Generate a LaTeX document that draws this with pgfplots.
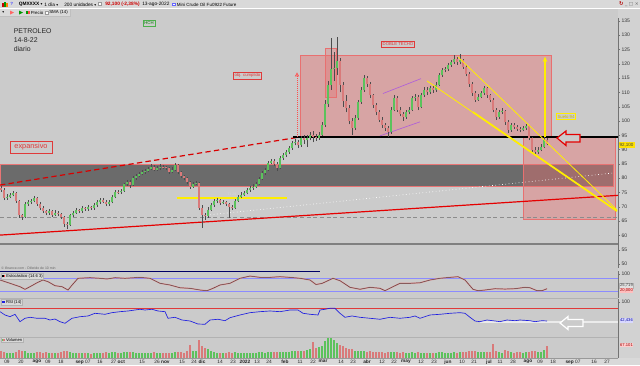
\documentclass[border=0pt]{standalone}
\usepackage{pgfplots}
\pgfplotsset{compat=1.18}
\usepackage{pgfplotstable}
\usetikzlibrary{arrows.meta}
\usepackage{fontspec}
\setmainfont{Liberation Sans}
\newfontfamily\dejavu{DejaVu Sans}
\definecolor{bg}{HTML}{CBCBCB}
\definecolor{tb}{HTML}{D9D9D9}
\definecolor{rstrip}{HTML}{D2D2D2}
\definecolor{band}{HTML}{6B6B6B}
\definecolor{cgreen}{HTML}{5CC25C}
\definecolor{cred}{HTML}{D97A7A}
\definecolor{pinkf}{HTML}{E87070}
\definecolor{ylw}{HTML}{FFEE00}
\definecolor{purp}{HTML}{B060D8}
\definecolor{rsiblue}{HTML}{2020E0}
\definecolor{lred}{HTML}{E03A3A}
\definecolor{stochk}{HTML}{5A4040}
\definecolor{stochd}{HTML}{E09090}
\newcommand\fs[1]{\fontsize{#1}{#1}\selectfont}

\pgfplotstableread{
x o c h l v
1 76.5 76 77.2 75.3 40
4 76 73 76.5 72.3 35
7 73 73.5 74.3 72.4 30
10 73.5 74 74.8 73 28
13 74 74.8 75.6 73.6 30
16 74.8 72 75.2 71.4 32
19 72 67 72.4 66.2 45
22 67 66.4 67.6 65.5 40
25 66.4 71 71.6 66 38
28 71 71.5 72.3 70.4 30
31 71.5 72 72.8 71 28
34 72 73 73.8 71.5 30
37 73 71 73.4 70.3 33
40 71 69.5 71.5 68.8 35
43 69.5 68.5 70.2 67.8 30
46 68.5 67.8 69 67 32
49 67.8 68.5 69.3 67.2 28
52 68.5 67.2 69 66.5 30
55 67.2 68 68.8 66.8 27
58 68 67.5 68.6 66.9 29
61 67.5 66.5 68 65.7 33
64 66.5 64 66.8 63 38
67 64 63.5 64.6 62.2 42
70 63.5 67 67.6 63.2 36
73 67 68 68.7 66.4 30
76 68 68.8 69.6 67.5 28
79 68.8 68.5 69.4 67.8 27
82 68.5 69.5 70.2 68 29
85 69.5 69.2 70 68.6 26
88 69.2 69.8 70.5 68.7 28
91 69.8 69.5 70.3 68.9 25
94 69.5 70.5 71.2 69 27
97 70.5 71.5 72.2 70 29
100 71.5 72.4 73.2 71 30
103 72.4 71.8 73 71.2 28
106 71.8 70.8 72.2 70.2 31
109 70.8 71.5 72.2 70.3 27
112 71.5 73.4 74 71.2 33
115 73.4 75.2 75.8 73 35
118 75.2 75 75.9 74.3 30
121 75 75.5 76.3 74.5 29
124 75.5 77.8 78.4 75.2 34
127 77.8 78.7 79.4 77.3 31
130 78.7 77.6 79.2 76.5 33
133 77.6 80 80.6 77.2 32
136 80 80.8 81.5 79.5 30
139 80.8 81.5 82.2 80.3 29
142 81.5 82 82.8 81 27
145 82 82.5 83.3 81.6 28
148 82.5 83.2 84 82 30
151 83.2 84 84.8 82.8 29
154 84 83 84.5 82.4 31
157 83 83.5 84.3 82.6 27
160 83.5 84 84.8 83 28
163 84 83.8 84.6 83.1 26
166 83.8 83.5 84.4 82.8 27
169 83.5 82.2 84 81.5 30
172 82.2 83 83.8 81.8 28
175 83 84.6 85.4 82.6 32
178 84.6 82 85 81.4 34
181 82 80.6 82.5 80 33
184 80.6 80 81.2 79.2 30
187 80 78.5 80.5 77.8 38
190 78.5 77 79 76.3 72
193 77 78 78.8 76.6 40
196 78 78.3 79 77.5 38
199 78.3 69.5 78.6 68.8 100
202 69.5 67 70.5 62.5 70
205 67 66.8 68 65.5 55
208 66.8 69 69.8 66.2 50
211 69 70.5 71.2 68.4 40
214 70.5 72 72.8 70 35
217 72 72.2 73 71.3 30
220 72.2 71.3 72.8 70.6 28
223 71.3 71.5 72.4 70.8 27
226 71.5 71 72 70.2 26
229 71 70 71.4 66 35
232 70 69.5 70.6 68.8 30
235 69.5 72 72.6 69.2 32
238 72 73.5 74.2 71.6 30
241 73.5 74.2 75 73 28
244 74.2 74.8 75.6 73.8 27
247 74.8 75.8 76.6 74.3 29
250 75.8 76.6 77.4 75.2 28
253 76.6 77 77.8 76 26
256 77 78 78.8 76.5 29
259 78 79.8 80.5 77.6 31
262 79.8 81.8 82.5 79.3 33
265 81.8 82.9 83.6 81.2 30
268 82.9 85.3 86 82.5 34
271 85.3 86 86.8 84.8 32
274 86 85 86.6 84.2 33
277 85 83.5 85.5 82.5 36
280 83.5 87 87.7 83.2 35
283 87 88 88.8 86.5 33
286 88 89 89.8 87.4 34
289 89 90.5 91.3 88.6 36
292 90.5 92.3 93.1 90 38
295 92.3 92.7 93.6 91.5 37
298 92.7 91.5 93.3 90.5 40
301 91.5 94 94.8 91 42
304 94 93.4 95 92 40
307 93.4 94.2 95.2 91 45
310 94.2 95 96 93.2 50
313 95 94.5 96.5 92.5 88
316 94.5 94 95.5 93 55
319 94 95 96 93.5 60
322 95 98.6 99.8 94.6 70
325 98.6 106 107.5 98 95
328 106 112.6 114 105 110
331 112.6 118 129 111 112
334 118 118.5 124 114 100
337 118.5 121 129.5 116 85
340 121 112.6 122 110 75
343 112.6 107 113.5 105 65
346 107 104.5 109 103 55
349 104.5 100 105.5 98.8 50
352 100 97.5 101 95.2 48
355 97.5 101 102 96.8 42
358 101 106.6 107.5 100.5 40
361 106.6 111 112 106 38
364 111 115 116 110.2 40
367 115 113 115.8 112 35
370 113 109 113.6 108 37
373 109 105.5 109.6 104.5 35
376 105.5 103 106.4 102 33
379 103 100.5 103.8 99.6 32
382 100.5 98.6 101.3 97.5 34
385 98.6 97.5 99.4 96.6 30
388 97.5 96 98.3 94.5 33
391 96 104 104.8 95.6 36
394 104 108 109 103.4 34
397 108 104 108.8 103.2 33
400 104 102.5 104.8 101.6 30
403 102.5 101.4 103.2 100 31
406 101.4 103 103.8 100.8 28
409 103 104 104.8 102.4 29
412 104 108 108.8 103.5 32
415 108 108.4 109.5 107 30
418 108.4 104.9 109 103.8 33
421 104.9 109 109.8 104.4 30
424 109 111 112 108.4 29
427 111 110 111.8 109 27
430 110 111.5 112.4 109.4 28
433 111.5 110.8 112.2 109.8 26
436 110.8 112.6 113.5 110.3 30
439 112.6 116 116.8 112.2 32
442 116 117.8 118.6 115.4 33
445 117.8 118 119 117 28
448 118 119.6 120.4 117.5 30
451 119.6 120.5 121.4 119 29
454 120.5 121.5 123 120 31
457 121.5 120.5 122.2 119.6 30
460 120.5 121.3 123.4 119.8 32
463 121.3 119 121.8 118.2 34
466 119 116.5 119.5 115.6 36
469 116.5 113 117 112 38
472 113 109.8 113.6 108.8 40
475 109.8 107.5 110.4 106.6 42
478 107.5 108.5 109.3 107 35
481 108.5 109.8 110.6 108 33
484 109.8 111.5 112.4 109.2 32
487 111.5 109 112 108.2 34
490 109 107.5 109.6 106.6 35
493 107.5 104 108 103 78
496 104 101.4 104.6 100.4 40
499 101.4 103 103.8 100.8 33
502 103 103.5 104.4 102.4 30
505 103.5 99.5 104 98.6 45
508 99.5 96.9 100.2 95.8 38
511 96.9 98.5 99.3 96.3 32
514 98.5 98 99.2 97.2 30
517 98 97.2 98.6 96.5 33
520 97.2 96.9 97.8 96 31
523 96.9 97.5 98.3 96.4 30
526 97.5 98.2 99 97 32
529 98.2 94 98.6 93.2 35
532 94 90 94.5 89.2 40
535 90 89.2 90.8 88 38
538 89.2 90 90.8 88.5 35
541 90 91 91.8 89.4 33
544 91 93.5 94.5 90.5 45
547 93.5 92.1 94.2 91.5 67
}\candles

\pgfplotstableread{
x v
0 70.8
10 55.5
20 39.8
25 27.8
30 39.8
37 58
43 70.8
48 63
55 44.5
62 40
68 24.6
72 47
78 78.6
90 81.4
100 78.6
107 75.4
115 81.4
125 78.6
140 83
150 78.6
160 55.5
170 47.7
180 35
190 32.3
200 24.6
207 21.4
213 32.3
220 47.7
230 55.5
240 78.6
250 89
260 83
270 83
280 86
290 83
300 78.6
310 70.8
316 50
322 55
333 78.6
340 67.5
350 37
360 28
370 37
380 32.5
385 21.4
393 40
400 55.5
410 55.5
420 58
430 70.8
440 78.6
450 83
458 86
465 70.8
473 28
478 21.4
485 24.6
495 30.6
505 29
515 30.6
525 37
530 35
537 21.4
542 21.4
547 30.6
}\stoch

\pgfplotstableread{
x v
0 70.6
5 60.6
10 55.4
15 62.7
20 40.3
25 50.6
30 53.6
37 50.6
45 50.6
50 45.4
55 48.4
60 40.3
65 35.4
72 50.6
80 55.4
88 57.6
95 65.7
105 62.7
112 67.6
120 70.6
128 72.7
135 75.7
140 77.9
145 75.7
152 77.9
158 72.7
165 70.6
168 50.6
175 53.6
182 45.4
190 42.4
198 33.3
205 32.4
210 45.4
218 47.6
225 43.3
230 52.4
240 60.6
250 67.6
260 70.6
270 72.7
280 70.6
290 75.7
298 75.7
303 65.7
310 62.7
318 60.6
320 75.7
325 77.9
330 80.9
335 80.9
340 65.7
345 53.6
352 57.6
360 53.6
370 50.6
380 47.6
390 53.6
400 50.6
410 53.6
415 57.6
420 50.6
430 60.6
440 62.7
450 65.7
460 67.6
465 65.7
470 53.6
475 42.4
480 40.3
487 45.4
495 42.4
500 40.3
507 45.4
515 43.3
520 45.4
530 43.3
535 40.3
542 43.3
547 42.4
}\rsi

\pgfplotsset{panel/.style={scale only axis, width=463.5pt, xmin=0, xmax=618,
  anchor=north west, axis y line*=right,
  axis line style={draw=black!55}, tick align=outside, major tick length=1.5pt,
  tick style={black!55}, yticklabel style={font=\fs{3.8}, text=black!80, inner sep=1pt},
  /pgf/number format/assume math mode=true, clip=true}}

\begin{document}
\begin{tikzpicture}
\useasboundingbox (0,0) rectangle (480pt,-273.75pt);
\fill[bg] (0,0) rectangle (480pt,-273.75pt);
\begin{scope}[x=0.75pt,y=-0.75pt]
 \fill[tb] (0,0) rectangle (640,8.5);
 \draw[white,line width=0.5pt] (0,8.5) -- (640,8.5);
 \fill[rstrip] (618,9) rectangle (640,358);
 \fill[tb] (0,358) rectangle (640,365);
 \fill[tb] (0,9) rectangle (70,16);
 \draw[black!25] (0,16) -- (70,16) -- (70,9);
\end{scope}

% ---------- main price panel ----------
\begin{axis}[panel, axis x line=none, at={(0pt,-13.5pt)}, height=187.5pt, ymin=48.6, ymax=136,
  ytick={50,55,...,135}]
 \fill[band] (axis cs:0,77.3) rectangle (axis cs:613,85);
 \draw[lred!70, line width=0.5pt] (axis cs:0,77.3) rectangle (axis cs:613,85);
 \fill[pinkf, fill opacity=0.42] (axis cs:300,94.4) rectangle (axis cs:551,123);
 \draw[pinkf, line width=0.5pt] (axis cs:300,94.4) rectangle (axis cs:551,123);
 \fill[pinkf, fill opacity=0.42] (axis cs:523,65.7) rectangle (axis cs:615,94.4);
 \draw[pinkf, line width=0.5pt] (axis cs:523,65.7) rectangle (axis cs:615,94.4);
 \fill[pinkf, fill opacity=0.35] (axis cs:325,108.4) rectangle (axis cs:336,125.5);
 \draw[pinkf, line width=0.5pt] (axis cs:325,108.4) rectangle (axis cs:336,125.5);
 \draw[black!50, line width=0.9pt] (axis cs:0,57) -- (axis cs:618,57);
 \draw[black!45, line width=0.5pt, dash pattern=on 3pt off 2pt] (axis cs:0,66.4) -- (axis cs:618,66.4);
 \draw[white, dotted, line width=0.5pt] (axis cs:207,67.1) -- (axis cs:613,81.8);
 \draw[red!90!black, line width=0.9pt] (axis cs:0,60.1) -- (axis cs:618,74.0);
 \draw[red!85!black, line width=0.9pt, dash pattern=on 4pt off 2.5pt] (axis cs:0,77.6) -- (axis cs:300,94.4);
 \draw[black, line width=0.8pt] (axis cs:293,94.4) -- (axis cs:618,94.4);
 \draw[ylw, line width=1.2pt] (axis cs:177,73.1) -- (axis cs:287,73.1);
 \draw[purp, line width=0.5pt] (axis cs:383,109.6) -- (axis cs:421,114.8);
 \draw[purp, line width=0.5pt] (axis cs:380,94.8) -- (axis cs:420,99.7);
 \draw[red!70, densely dotted, line width=0.5pt, -{Triangle[open,length=3pt,width=3pt]}] (axis cs:297,94.4) -- (axis cs:297,117);
 % candles: wicks
 \addplot[draw=none, mark=none, forget plot, error bars/.cd, y dir=plus, y explicit, error mark=none,
   error bar style={draw=black!70, solid, line width=0.4pt}]
   table[x=x, y=l, y error plus expr=\thisrow{h}-\thisrow{l}] {\candles};
 % up bodies
 \addplot[draw=none, mark=none, forget plot, x filter/.expression={\thisrow{c}>=\thisrow{o} ? x : nan},
   error bars/.cd, y dir=plus, y explicit, error mark=none,
   error bar style={draw=cgreen, solid, line width=1.4pt}]
   table[x=x, y=o, y error plus expr=\thisrow{c}-\thisrow{o}] {\candles};
 % down bodies
 \addplot[draw=none, mark=none, forget plot, x filter/.expression={\thisrow{c}<\thisrow{o} ? x : nan},
   error bars/.cd, y dir=plus, y explicit, error mark=none,
   error bar style={draw=cred, solid, line width=1.4pt}]
   table[x=x, y=c, y error plus expr=\thisrow{o}-\thisrow{c}] {\candles};
 % yellow trend lines
 \draw[ylw, line width=0.6pt] (axis cs:458,122.4) -- (axis cs:617,68.9);
 \draw[ylw, line width=0.6pt] (axis cs:427,114) -- (axis cs:617,68.5);
 \draw[ylw, line width=1.3pt] (axis cs:473,103.1) -- (axis cs:617,68.5);
 \draw[ylw, line width=0.8pt, -{Stealth[length=4pt,width=3.5pt]}] (axis cs:545,94.4) -- (axis cs:545,122.5);
\end{axis}

% ---------- stochastic ----------
\begin{axis}[panel, axis x line=none, at={(0pt,-203.25pt)}, height=20.25pt, ymin=-12.3, ymax=112.3, ytick={100}]
 \draw[blue!45!white, line width=0.5pt] (axis cs:0,80) -- (axis cs:618,80);
 \draw[blue!45!white, line width=0.5pt] (axis cs:0,20) -- (axis cs:618,20);
 \addplot[stochd, line width=0.9pt, mark=none] table[x=x,y=v] {\stoch};
 \addplot[stochk, line width=0.35pt, mark=none] table[x=x,y=v] {\stoch};
\end{axis}

% ---------- RSI ----------
\begin{axis}[panel, axis x line=none, at={(0pt,-224.25pt)}, height=28.5pt, ymin=-6.1, ymax=109, ytick={100}]
 \draw[lred, line width=1pt] (axis cs:0,80) -- (axis cs:618,80);
 \draw[white!92!black, line width=1.2pt] (axis cs:480,39.4) -- (axis cs:618,39.4);
 \addplot[rsiblue, line width=0.5pt, mark=none] table[x=x,y=v] {\rsi};
\end{axis}

% ---------- volume ----------
\begin{axis}[panel, at={(0pt,-252.75pt)}, height=15.75pt, ymin=0, ymax=118, ytick=\empty,
  axis x line*=bottom, x axis line style={draw=black!40},
  xtick={7,21,37,48,61,83,100,118,142,162,182,194,202,220,233,245,257,269,285,300,313,323,341,353,367,382,394,406,421,434,448,462,474,489,500,513,528,540,553,573,594,607},
  xticklabels={09,20,\textbf{ago},09,18,{\textbf{sep} 07},16,{27 \textbf{oct}},15,{26 \textbf{nov}},15,24,\textbf{dic},14,23,\textbf{2022},13,24,\textbf{feb},11,22,\textbf{mar},14,23,\textbf{abr},12,22,\textbf{may},12,23,\textbf{jun},10,21,\textbf{jul},11,28,\textbf{ago},09,18,{\textbf{sep} 07},16,27},
  xticklabel style={font=\fs{3.6}, text=black!85, inner sep=0.6pt}, major tick length=1pt]
 \addplot[ycomb, cgreen, line width=1.3pt, mark=none, x filter/.expression={\thisrow{c}>=\thisrow{o} ? x : nan}] table[x=x,y=v] {\candles};
 \addplot[ycomb, cred, line width=1.3pt, mark=none, x filter/.expression={\thisrow{c}<\thisrow{o} ? x : nan}] table[x=x,y=v] {\candles};
\end{axis}

% ---------- annotations (pixel coordinates) ----------
\begin{scope}[x=0.75pt,y=-0.75pt]
 \draw[blue!40!black, line width=0.6pt] (0,271.5) -- (320,271.5);
 \draw[black!30, line width=0.4pt] (0,298.5) -- (618,298.5);
 \draw[black!30, line width=0.4pt] (0,336.8) -- (618,336.8);
 % toolbar
 \fill[red!80!black] (2,3) rectangle (3.5,7); \fill[green!60!black] (4,1.5) rectangle (5.5,7); \fill[orange] (6,2.5) rectangle (7.5,7);
 \node[anchor=west, font=\fs{3.4}, inner sep=0] at (10,4.3) {\textcolor{blue!70}{\textbf{?}}};
 \node[anchor=west, font=\fs{3.6}, inner sep=0] at (18.5,4.5) {\textbf{QMXXXX} {\dejavu\fs{2.8}▾}};
 \node[anchor=west, font=\fs{3.6}, inner sep=0] at (44,4.5) {1 día {\dejavu\fs{2.8}▾}};
 \node[anchor=west, font=\fs{3.6}, inner sep=0] at (64,4.5) {200 unidades {\dejavu\fs{2.8}▾}};
 \draw[black!40, fill=white] (98,2.5) rectangle (101,5.5);
 \node[anchor=west, font=\fs{3.6}, inner sep=0, text=red!80!black] at (105,4.5) {\textbf{92,100 (-2,38\%)}};
 \node[anchor=west, font=\fs{3.6}, inner sep=0] at (142,4.5) {13-ago-2022};
 \draw[blue!60, fill=white] (172.5,3) rectangle (175,5.5);
 \node[anchor=west, font=\fs{3.4}, inner sep=0] at (176.5,4.5) {Mini Crude Oil Fu0922 Future};
 \node[anchor=east, font=\fs{4}, inner sep=0] at (639,4.5) {\textcolor{red!70!black}{\textbf{\dejavu ↻}}\ \textcolor{black!60}{\dejavu\fs{3.5}\_ □ ×}};
 \node[anchor=west, font=\fs{3}, inner sep=0] at (2,12.5) {\dejavu\fs{2.8}▾};
 \fill[red!60] (10,10.5) -- (14,12.5) -- (10,14.5) -- cycle; \fill[green!60!black] (19,10.5) -- (23,12.5) -- (19,14.5) -- cycle;
 \fill[green!60!black] (26,10.8) rectangle (27.8,14.2); \fill[red!70] (27.8,10.8) rectangle (29.6,14.2);
 \node[anchor=west, font=\fs{3.3}, inner sep=0] at (30.5,12.5) {Precio};
 \draw[black!40, fill=white] (45,11) rectangle (47.8,14);
 \node[anchor=west, font=\fs{3.3}, inner sep=0] at (49,12.5) {SMA (14)};
 % titles
 \node[anchor=west, font=\fs{5.2}, text=black!85, inner sep=0] at (13.5,31.5) {PETROLEO};
 \node[anchor=west, font=\fs{5.2}, text=black!85, inner sep=0] at (13.5,40.3) {14-8-22};
 \node[anchor=west, font=\fs{5.2}, text=black!85, inner sep=0] at (13.5,49) {diario};
 \node[draw=green!55!black!70, text=green!50!black, font=\fs{3.2}, inner sep=1pt, line width=0.4pt] at (149,23) {HCH};
 \node[draw=lred, text=lred, font=\fs{3.2}, inner sep=1pt, line width=0.4pt] at (247.5,75.5) {obj. cumplido};
 \node[draw=lred, text=lred, font=\fs{3.2}, inner sep=1pt, line width=0.4pt] at (398,44.5) {DOBLE TECHO};
 \node[draw=lred, text=lred, font=\fs{5.5}, inner sep=2pt, line width=0.4pt, minimum width=31.5pt] at (31,147) {expansivo};
 \node[draw=ylw, text=ylw!80!black, font=\fs{3.2}, inner sep=1pt, line width=0.4pt] at (566,116.5) {Suelo 94};
 \node[text=white!85!black, font=\fs{2.6}, inner sep=0] at (232,195) {71,29};
 \filldraw[draw=red!90!black, fill=bg, line width=0.9pt, line join=miter] (557,138) -- (566,131) -- (566,134.5) -- (580,134.5) -- (580,142) -- (566,142) -- (566,145.5) -- cycle;
 \filldraw[draw=white, fill=bg, line width=0.9pt, line join=miter] (560,323) -- (568,316.5) -- (568,319.5) -- (583,319.5) -- (583,326.5) -- (568,326.5) -- (568,329.5) -- cycle;
 % right value boxes
 \node[fill=yellow!85!orange, text=black!75, font=\fs{3.4}, inner sep=0.8pt] at (626.5,145) {92,100};
 \node[fill=black!12, draw=black!30, text=black!75, font=\fs{3.1}, inner sep=0.5pt, line width=0.3pt] at (626.5,285.5) {25,719};
 \node[fill=red!25, text=red!60!black, font=\fs{3.1}, inner sep=0.5pt] at (626.5,290.5) {20,000};
 \node[fill=blue!15, text=blue!60!black, font=\fs{3.1}, inner sep=0.5pt] at (626.5,320.5) {42,436};
 \node[fill=red!20, text=red!60!black, font=\fs{3.1}, inner sep=0.5pt] at (626.5,345) {67.101};
 % panel labels
 \node[anchor=west, font=\fs{2.6}, text=black!60, inner sep=0] at (1,268.3) {© ifinance.com - Diferido de 10 min};
 \node[anchor=west, draw=black!30, fill=tb, font=\fs{3.1}, inner sep=0.6pt, line width=0.3pt] at (1,276.3) {\textcolor{black}{\rule{1.8pt}{1.8pt}}\textcolor{red!70}{\rule{0.6pt}{1.8pt}} Estocástico (14 6 3)};
 \node[anchor=west, draw=black!30, fill=tb, font=\fs{3.1}, inner sep=0.6pt, line width=0.3pt] at (1,302.3) {\textcolor{rsiblue}{\rule{2.2pt}{1.8pt}} RSI (14)};
 \node[anchor=west, draw=black!30, fill=tb, font=\fs{3.1}, inner sep=0.6pt, line width=0.3pt] at (1,339.8) {\textcolor{cgreen}{\rule{1.1pt}{1.8pt}}\textcolor{cred}{\rule{1.1pt}{1.8pt}} Volumen};
\end{scope}
\end{tikzpicture}
\end{document}
